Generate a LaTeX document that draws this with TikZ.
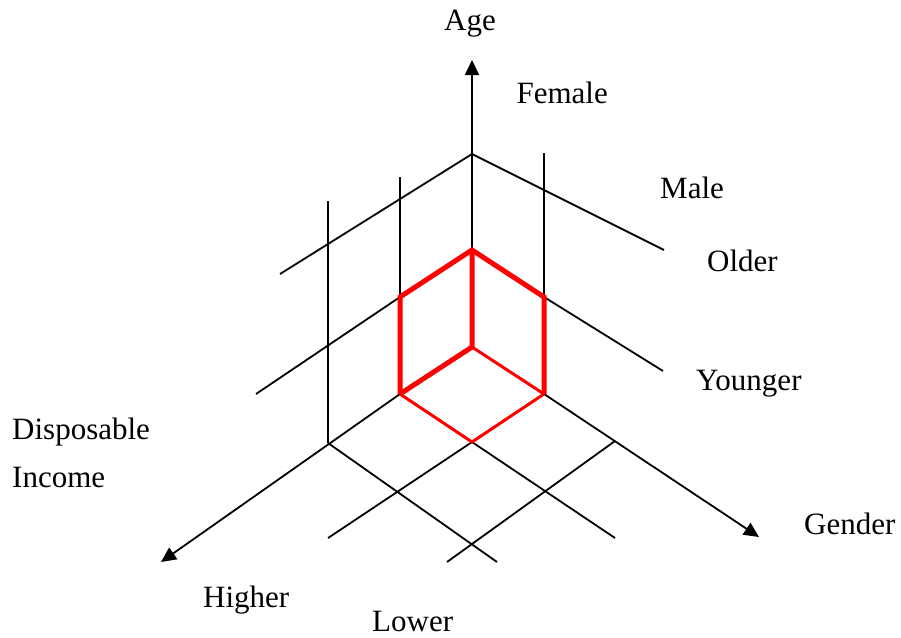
\documentclass[tikz,border=0pt]{standalone}
\usepackage{fontspec}
\setmainfont{Liberation Serif}
\usetikzlibrary{arrows.meta}
\begin{document}
\begin{tikzpicture}[x=1pt,y=-1pt,
  axisline/.style={line width=1.8pt, line cap=butt},
  arrowline/.style={axisline, -{Triangle[length=15pt,width=14pt]}},
  redthick/.style={draw=red, line width=5pt, line join=miter},
  redthin/.style={draw=red, line width=3pt, line join=miter},
  lbl/.style={anchor=base west, inner sep=0pt, font=\fontsize{31}{37}\selectfont}]
\useasboundingbox (0,0) rectangle (901,637);
% points
\coordinate (O) at (472,347);
\coordinate (T) at (472,250);
\coordinate (UL) at (400,297);
\coordinate (UR) at (544,297);
\coordinate (LL) at (400,394);
\coordinate (LR) at (544,394);
\coordinate (B) at (472,442);
\coordinate (apex) at (472,154);
\coordinate (agetip) at (472,60);
\coordinate (tlend) at (280,274);
\coordinate (trend) at (664,250);
\coordinate (v1top) at (544,153);
\coordinate (v2top) at (400,177);
\coordinate (v3top) at (328,201);
\coordinate (v3bot) at (328,443);
\coordinate (youngend) at (663,371);
\coordinate (ulend) at (256,394);
\coordinate (inctip) at (161,562);
\coordinate (gentip) at (759,537);
\coordinate (g2) at (615,441);
\coordinate (l1end) at (497,562);
\coordinate (l2end) at (615,538);
\coordinate (l3end) at (328,538);
\coordinate (l4end) at (447,562);
% black grid
\draw[arrowline] (O) -- (agetip);
\draw[axisline] (tlend) -- (apex) -- (trend);
\draw[axisline] (v1top) -- (UR);
\draw[axisline] (v2top) -- (UL);
\draw[axisline] (v3top) -- (v3bot);
\draw[axisline] (UR) -- (youngend);
\draw[axisline] (UL) -- (ulend);
\draw[arrowline] (LL) -- (inctip);
\draw[arrowline] (LR) -- (gentip);
\draw[axisline] (v3bot) -- (l1end);
\draw[axisline] (B) -- (l2end);
\draw[axisline] (B) -- (l3end);
\draw[axisline] (g2) -- (l4end);
% red cube
\draw[redthin] (O) -- (LR);
\draw[redthin] (LL) -- (B) -- (LR);
\draw[redthick] (LL) -- (UL) -- (T) -- (UR) -- (LR);
\draw[redthick] (T) -- (O) -- (LL);
% labels
\node[lbl] (age) at (444,30) {Age};
\node[lbl, anchor=base east] (female) at (608,103) {Female};
\node[lbl] (male) at (660,198) {Male};
\node[lbl] (older) at (707,271) {Older};
\node[lbl] (younger) at (696,390) {Younger};
\node[lbl] (disp) at (12,439) {Disposable};
\node[lbl] (income) at (12,487) {Income};
\node[lbl] (gender) at (804,534) {Gender};
\node[lbl] (higher) at (203,607) {Higher};
\node[lbl] (lower) at (372,631) {Lower};
\end{tikzpicture}
\end{document}
